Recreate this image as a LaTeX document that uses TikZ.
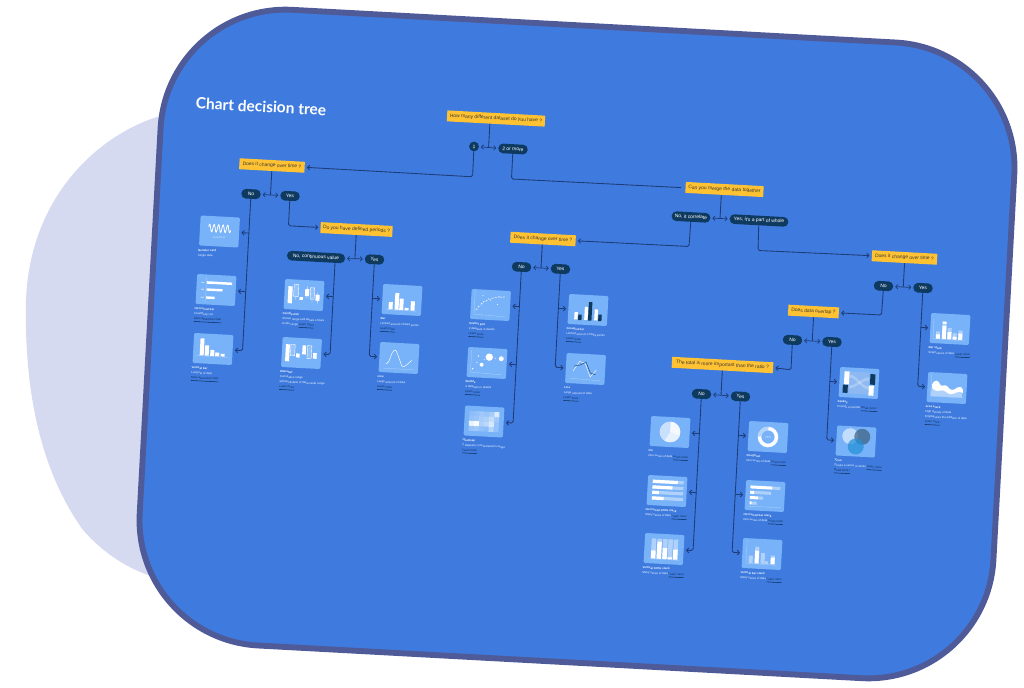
\documentclass[tikz,border=0pt]{standalone}
\usepackage{fontspec}
\setmainfont{Liberation Sans}
\newfontfamily\titlef{Lato}
\usetikzlibrary{arrows.meta,calc}
\definecolor{blob}{HTML}{D6DAF0}
\definecolor{panel}{HTML}{3F7BDE}
\definecolor{rim}{HTML}{4F5A98}
\definecolor{cardc}{HTML}{78B2F8}
\definecolor{pillc}{HTML}{0F3A60}
\definecolor{yel}{HTML}{FFC233}
\definecolor{wire}{HTML}{1E3C78}
\definecolor{ink}{HTML}{3B3A35}
\definecolor{lmc}{HTML}{0F2F5C}
\newcommand\tilt{-3.1}
\tikzset{
  qbox/.style={fill=yel,text=ink,rotate=\tilt,inner sep=0,minimum height=8.2pt,font=\fontsize{3.7}{4}\selectfont},
  pill/.style={fill=pillc,text=white,rotate=\tilt,rounded corners=3.4pt,inner sep=0,minimum height=7.2pt,font=\fontsize{3.7}{4}\selectfont},
  card/.style={fill=cardc,rotate=\tilt,rounded corners=1pt,inner sep=0,minimum width=29.5pt,minimum height=22.5pt},
  cardtxt/.style={rotate=\tilt,anchor=north west,inner sep=0,align=left,text=white!88!cardc,font=\fontsize{2.2}{3.75}\selectfont},
  conn/.style={draw=wire,line width=.65pt,rounded corners=1.2pt},
  arr/.style={conn,-{Straight Barb[length=1.6pt,width=3.2pt,round]},shorten >=1.6pt},
  both/.style={draw=wire,line width=.55pt,{Straight Barb[length=1.6pt,width=3.2pt,round]}-{Straight Barb[length=1.6pt,width=3.2pt,round]},shorten <=1.4pt,shorten >=1.4pt},
  thin white/.style={draw=white,line width=.22pt},
  axis/.style={draw=white!45!cardc,line width=.2pt},
  lite/.style={fill=white,fill opacity=.42},
}
\newcommand\lm[1]{\textcolor{lmc}{\underline{#1}}}
\newcommand\ttl[1]{\textbf{#1}}
% card + caption + drawing
\newcommand\Card[4]{%
  \node[card] (#1) at (#2) {};
  \node[cardtxt] (#1t) at ([shift={(-.8,3)}]#1.south west) {#3};
  \begin{scope}[shift={(#1.center)},rotate=\tilt]#4\end{scope}}
% fork under a question: question, left pill, right pill
\newcommand\Fork[3]{%
  \draw[both] (#2.east) -- (#3.west);
  \coordinate (#1j) at ($(#2.east)!.5!(#3.west)$);
  \coordinate (#1k) at ($(#1.south west)!(#1j)!(#1.south east)$);
  \draw[conn] (#1k) -- (#1j);}
\newcommand\StemDir[1]{\coordinate (#1dn) at ([shift={(-8.1,150)}]#1);}
\newcommand\Leaf[3]{\coordinate (#2b) at ($(#1)!(#2.#3)!(#1dn)$); \draw[arr] (#2b) -- (#2.#3);}
\newcommand\Last[3]{\coordinate (#2b) at ($(#1)!(#2.#3)!(#1dn)$); \draw[arr] (#1) -- (#2b) -- (#2.#3);}
\newcommand\Vbars[3][fill=white]{\foreach \a/\b/\t in {#2}{\fill[#1] (\a,#3) rectangle (\b,\t);}}
\begin{document}
\begin{tikzpicture}[x=.75pt,y=-.75pt]
\useasboundingbox (0,0) rectangle (1024,688);
% lavender blob
\fill[blob] (210,108) -- (157,117) .. controls (100,135) and (30,195) .. (26,300)
  .. controls (24,390) and (40,470) .. (83,530)
  .. controls (105,555) and (130,570) .. (157,578) -- (210,592) -- cycle;
% panel
\begin{scope}[shift={(577,344)},rotate=\tilt]
\draw[fill=panel,draw=rim,line width=4.4pt,rounded corners=94pt] (-427.5,-318.3) rectangle (427.5,318.3);
\end{scope}
\node[rotate=\tilt+.2,text=white,font=\titlef\bfseries\fontsize{11.6}{12}\selectfont,inner sep=0] (title) at (261,106.5) {Chart decision tree};

% questions
\node[qbox,minimum width=73.5pt] (q1) at (496,118.5) {How many different dataset do you have ?};
\node[qbox,minimum width=49pt] (q2) at (272,165.5) {Does it change over time ?};
\node[qbox,minimum width=54pt] (q3) at (356.5,229.5) {Do you have defined periods ?};
\node[qbox,minimum width=58.5pt] (q4) at (724.5,189.5) {Can you merge the data together};
\node[qbox,minimum width=49pt] (q5) at (543,239) {Does it change over time ?};
\node[qbox,minimum width=49pt] (q6) at (904.5,257.5) {Does it change over time ?};
\node[qbox,minimum width=38pt] (q7) at (813.5,311.5) {Does data overlap ?};
\node[qbox,minimum width=76pt] (q8) at (722.5,365) {The total is more important than the ratio ?};
% answers
\node[pill,minimum width=7.2pt] (a1) at (474,146.5) {1};
\node[pill,minimum width=22pt] (a2) at (513,149) {2 or more};
\node[pill,minimum width=14.5pt] (q2n) at (251,194) {No};
\node[pill,minimum width=14.5pt] (q2y) at (290,196) {Yes};
\node[pill,minimum width=43.5pt] (q3n) at (316,257) {No, continuous value};
\node[pill,minimum width=14.5pt] (q3y) at (374.5,259.5) {Yes};
\node[pill,minimum width=29pt] (q4n) at (691,217) {No, it correlate};
\node[pill,minimum width=44pt] (q4y) at (759,220.5) {Yes, it's a part of whole};
\node[pill,minimum width=14.5pt] (q5n) at (521.5,267) {No};
\node[pill,minimum width=14.5pt] (q5y) at (560.5,269) {Yes};
\node[pill,minimum width=14.5pt] (q6n) at (883.5,286) {No};
\node[pill,minimum width=14.5pt] (q6y) at (923,288) {Yes};
\node[pill,minimum width=14.5pt] (q7n) at (792.5,340) {No};
\node[pill,minimum width=14.5pt] (q7y) at (832,342) {Yes};
\node[pill,minimum width=14.5pt] (q8n) at (701.5,394) {No};
\node[pill,minimum width=14.5pt] (q8y) at (740.5,396.5) {Yes};

% cards
\Card{number}{219.5,231.5}{\ttl{Number card}\\Single data}{
  \draw[white,line width=.6pt,smooth,samples=90,domain=-11:11] plot (\x,{-3+3.8*sin(\x*80)});
  \node[inner sep=0,text=white!70!cardc,font=\fontsize{1.8}{2}\selectfont] (numval) at (0,6) {0000000,00};
}
\Card{hbar}{216,290}{\ttl{Horizontal bar}\\Few/Many cat.\\\lm{More about bar chart}}{
  \draw[axis] (-10,-12) -- (-10,12);
  \fill[white] (-9.5,-8.3) rectangle (15.7,-5.8) (-9.5,-1.2) rectangle (6.5,1.2) (-9.5,6.8) rectangle (-1,9.2);
  \fill[white,opacity=.5] (-15,-7.5) rectangle (-12,-6.5) (-15,-.5) rectangle (-12,.5) (-15,7.5) rectangle (-12,8.5);
}
\Card{vbar}{213,349}{\ttl{Vertical bar}\\Long list of data\\\lm{More about bar chart}}{
  \draw[axis] (-16,7.5) -- (16,7.5);
  \Vbars{-13/-9/-10,-8/-4/-3.3,-2.5/1.5/1,2.5/6.5/3.3,8/12/4.3}{7}
}
\Card{candle}{304,295}{\ttl{Candlestick}\\Shows range and details of data\\inside range \lm{Learn more}}{
  \fill[white] (-16,-8) rectangle (-11.7,9) (-4.3,2.3) rectangle (-1,5) (1,-6) rectangle (5,1) (11.7,-1) rectangle (15.7,5);
  \draw[white,line width=.3pt,fill=white,fill opacity=.2] (-10.3,-10) rectangle (-5.7,2) (6.3,-7.7) rectangle (10.3,3.7);
  \draw[thin white] (-8,2) -- (-8,5) (3,-9) -- (3,3) (8.3,3.7) -- (8.3,7) (13.7,-3) -- (13.7,8);
}
\Card{water}{301.5,353}{\ttl{Waterfall}\\Cumulative range\\without details of data inside range\\\lm{Learn more}}{
  \fill[white] (-16,-8) rectangle (-12,9) (-5.3,.7) rectangle (-1.7,4.7) (.7,-7.7) rectangle (4.3,1.3) (11.7,-.7) rectangle (15.3,5);
  \draw[white,line width=.3pt,fill=white,fill opacity=.2] (-11,-8) rectangle (-6.7,3) (5.7,-7.7) rectangle (10,5);
}
\Card{bar}{402,300}{\ttl{Bar}\\Limited amount of data points\\\lm{Learn more}}{
  \draw[axis] (-15,10.5) -- (15,10.5);
  \Vbars{-13/-9/2.7,-7/-3/-6.7,-2.3/1.7/-1.3,3/7/7.7,9/13/.7}{10}
}
\Card{line}{399,358}{\ttl{Line}\\Large amount of data\\\lm{Learn more}}{
  \draw[axis] (-15,11) -- (15,11);
  \draw[white,line width=.35pt,smooth] plot coordinates {(-13,6.7) (-10,4) (-7,-5) (-4,-7.7) (-.7,-1.7) (3.7,8.3) (7.7,6.7) (12.7,1.7)};
}
\Card{scatter}{490.5,305}{\ttl{Scatter plot}\\2 datasets in details\\\lm{Learn more}}{
  \draw[axis] (-16,-13) -- (-16,10) -- (15,11);
  \draw[white,line width=.15pt,opacity=.6] (-13,5) .. controls (-8,-4) and (0,-8) .. (14,-9);
  \foreach \p in {(-14,5),(-12,2),(-9,-1),(-7,-3),(-4,-4),(-2,-6),(0,-5),(2,-7),(5,-8),(8,-9),(10,-8),(13,-8),(-8,-9),(7,-1)}
    \fill[white] \p circle (.55);
}
\Card{bubble}{487,363}{\ttl{Bubble}\\3 datasets in details\\\lm{Learn more}}{
  \draw[axis] (-16,-12) -- (-16,10) -- (15,11);
  \fill[white] (2,-6) circle (3.7) (14,-5) circle (2.5) (-5.3,2) circle (2) (-9,-6.5) circle (.8) (-10,0) circle (.7) (-14,6.5) circle (.8) (-3,-3.5) circle (.5) (8,-5) circle (.5);
}
\Card{heat}{484,421.5}{\ttl{Heatmap}\\2 datasets concentrated in range\\\lm{Learn more}}{
  \foreach \row [count=\j from 0] in {{.15,.2,.3,.25,.35,.75},{.2,.25,.35,.4,.55,.3},{.85,.95,.4,.5,.7,.2},{.25,.3,.2,.15,.45,.2}}
    \foreach \v [count=\i from 0] in \row
      \fill[white,opacity=\v] ({-15+\i*5},{-10+\j*5}) rectangle ++(5,5);
}
\Card{group}{588,310}{\ttl{Grouped bar}\\Limited amount of data points\\\lm{Learn more}}{
  \Vbars{-13.3/-10/2.7,-3.3/.1/-3,6.7/10/-1}{10}
  \Vbars[fill=pillc]{-9.4/-6/5,.5/4/-8,10.7/14/4}{10.5}
}
\Card{linetwo}{585.5,369}{\ttl{Line}\\Large amount of data\\\lm{Learn more}}{
  \draw[axis] (-15,10) -- (15,11);
  \draw[white,line width=.3pt] (-12.3,2.7) -- (-6.3,-7.3) -- (-.7,-5.7) -- (5,7.7) -- (11,.3);
  \draw[pillc,line width=.3pt] (-11.7,-2.3) -- (-5.7,-3.7) -- (.3,-6.7) -- (5,3.7) -- (10.3,5.3);
}
\Card{pie}{670,432}{\ttl{Pie}\\One series of data \lm{Learn more}}{
  \fill[white!70!cardc] (0,0) circle (10.3);
  \fill[white!82!cardc] (0,0) -- (10,3) arc[start angle=17,end angle=120,radius=10.3] -- cycle;
  \fill[white!92!cardc] (0,0) -- (0,-10.3) arc[start angle=-90,end angle=17,radius=10.3] -- cycle;
  \fill[white!60!cardc] (0,0) -- (-5.1,8.9) arc[start angle=120,end angle=270,radius=10.3] -- cycle;
}
\Card{hfull}{667,491}{\ttl{Horizontal 100\% stack}\\Many series of data \lm{Learn more}}{
  \foreach \y/\w in {-9/25,-3.3/20,2/6.7,7.7/11.7}{
    \fill[lite] (-14.7,\y-1.6) rectangle (16.3,\y+1.6);
    \fill[white] (-14.7,\y-1.6) rectangle (-14.7+\w,\y+1.6);}
}
\Card{vfull}{664,549}{\ttl{Vertical 100\% stack}\\Many series of data \lm{Learn more}}{
  \draw[axis] (-15,10.5) -- (16,10.5);
  \foreach \x/\h in {-12.7/8,-7/17,-1.3/11,4/2,9.3/10}{
    \fill[lite] (\x,-10) rectangle (\x+4.5,10);
    \fill[white] (\x,10) rectangle (\x+4.5,10-\h);}
}
\Card{donut}{768,437}{\ttl{Doughnut}\\One series of data \lm{Learn more}}{
  \fill[white,opacity=.45,even odd rule] (0,0) circle (10.5) (0,0) circle (6.5);
  \draw[white,line width=2.4pt] (-90:8.5) arc[start angle=-90,end angle=180,radius=8.5];
  \node[inner sep=0,text=white!80!cardc,font=\fontsize{2.2}{2.4}\selectfont] (donutv) at (0,0) {75\%};
}
\Card{hstack}{765,496}{\ttl{Horizontal bar stack}\\One series of data \lm{Learn more}}{
  \draw[axis] (-16,11) -- (16,11);
  \foreach \y/\a/\b in {-8.3/22/8,-3/4/17,2.3/8/5,7.7/2/5}{
    \fill[white] (-15,\y-1.5) rectangle (-15+\a,\y+1.5);
    \fill[lite] (-15+\a,\y-1.5) rectangle (-15+\a+\b,\y+1.5);}
}
\Card{vstack}{762,554}{\ttl{Vertical bar stack}\\Many series of data \lm{Learn more}}{
  \draw[axis] (-15.5,-13) -- (-15.5,10) -- (15,10.5);
  \fill[lite] (-13,2.3) rectangle (-9,9.7) (-7,-7) rectangle (-3,9.7) (-1,-1) rectangle (3,9.7) (3.5,7) rectangle (6.5,9.7) (9,1) rectangle (13,9.7);
  \fill[white] (-7,-3) rectangle (-3,9.7) (9,3) rectangle (13,9.7);
}
\Card{sankey}{859,383}{\ttl{Sankey}\\Provide a transfer \lm{Read more !}}{
  \fill[white!50!panel,opacity=.55] (-10,-11) rectangle (10,11);
  \fill[white,opacity=.25] (-10,-8) .. controls (-2,-8) and (2,3) .. (10,3) -- (10,6) .. controls (2,6) and (-2,-5) .. (-10,-5) -- cycle;
  \fill[white,opacity=.25] (-10,3) .. controls (-2,3) and (2,-6) .. (10,-6) -- (10,-3) .. controls (2,-3) and (-2,6) .. (-10,6) -- cycle;
  \fill[white] (-15,-11) rectangle (-10,2) (10,2) rectangle (15,12);
  \fill[pillc] (-16,2.5) rectangle (-11,10.5) (11,-9.5) rectangle (16,1);
}
\Card{venn}{856,441.5}{\ttl{Venn}\\Create a sense of whole \lm{Learn more}\\\lm{Read more !}}{
  \fill[white,opacity=.55] (-6,-5) circle (8);
  \fill[pillc!80!white,opacity=.72] (6,-5) circle (8);
  \fill[cyan!70!blue!90!white,opacity=.72] (0,5) circle (8);
}
\Card{barstack}{950,329}{\ttl{Bar stack}\\Small series of data \lm{Learn more}}{
  \draw[axis] (-16.5,-9) -- (-16.5,10.5) -- (15,11);
  \foreach \x/\t/\m in {-13.7/3/6,-7.7/-7/-3,-2.3/-1/3,3/4/7.5,8.7/1/4}{
    \fill[lite] (\x,\t) rectangle (\x+4,10.3);
    \fill[white] (\x,\m) rectangle (\x+4,10.3);}
  \fill[white] (-7.7,-7) rectangle (-3.7,-5);
}
\Card{area}{947,388}{\ttl{Area stack}\\High density of data\\Emphasizes the addition of data\\\lm{Learn more}}{
  \draw[axis] (-16,-13) -- (-16,9) -- (16,9);
  \fill[white,opacity=.42] (-15.5,8.7) -- (-15.5,0) -- (15.5,2) -- (15.5,8.7) -- cycle;
  \fill[white] (-15,-3) .. controls (-13,-8) and (-9,-8) .. (-7,-3)
    .. controls (-5,0) and (-2,-5) .. (1,-1)
    .. controls (4,4) and (8,1) .. (10,-1)
    .. controls (12,-3) and (15,-2) .. (16,1)
    -- (16,4) .. controls (12,1) and (8,6) .. (4,6)
    .. controls (0,6) and (-2,1) .. (-7,3)
    .. controls (-10,4) and (-14,3) .. (-15,0) -- cycle;
}

% connectors
\Fork{q1}{a1}{a2}
\Fork{q2}{q2n}{q2y}
\Fork{q3}{q3n}{q3y}
\Fork{q4}{q4n}{q4y}
\Fork{q5}{q5n}{q5y}
\Fork{q6}{q6n}{q6y}
\Fork{q7}{q7n}{q7y}
\Fork{q8}{q8n}{q8y}

\coordinate (e1) at (472.6,176.8);
\draw[arr] (a1.south) -- (e1) -- (q2.east);
\coordinate (e2) at (511.5,179);
\coordinate (e2t) at (681,187.6);
\draw[conn] (a2.south) -- (e2) -- (e2t);
\coordinate (e3) at (689,246.5);
\draw[arr] (q4n.south) -- (e3) -- (q5.east);
\coordinate (e4) at (758,250.5);
\draw[arr] (q4y.south) -- (e4) -- (q6.west);
\coordinate (e5) at (288.5,225.8);
\draw[arr] (q2y.south) -- (e5) -- (q3.west);
\coordinate (e6) at (881.5,315);
\draw[arr] (q6n.south) -- (e6) -- (q7.east);
\coordinate (e7) at (791,369.8);
\draw[arr] (q7n.south) -- (e7) -- (q8.east);

% stems with leaves
\coordinate (s1) at (q2n.south); \StemDir{s1}
\Leaf{s1}{number}{east}\Leaf{s1}{hbar}{east}\Last{s1}{vbar}{east}
\coordinate (s2) at ($(q3n.south)!.66!(q3n.south east)$); \StemDir{s2}
\Leaf{s2}{candle}{east}\Last{s2}{water}{east}
\coordinate (s3) at (q3y.south); \StemDir{s3}
\Leaf{s3}{bar}{west}\Last{s3}{line}{west}
\coordinate (s4) at (q5n.south); \StemDir{s4}
\Leaf{s4}{scatter}{east}\Leaf{s4}{bubble}{east}\Last{s4}{heat}{east}
\coordinate (s5) at (q5y.south); \StemDir{s5}
\Leaf{s5}{group}{west}\Last{s5}{linetwo}{west}
\coordinate (s6) at (q8n.south); \StemDir{s6}
\Leaf{s6}{pie}{east}\Leaf{s6}{hfull}{east}\Last{s6}{vfull}{east}
\coordinate (s7) at (q8y.south); \StemDir{s7}
\Leaf{s7}{donut}{west}\Leaf{s7}{hstack}{west}\Last{s7}{vstack}{west}
\coordinate (s8) at (q7y.south); \StemDir{s8}
\Leaf{s8}{sankey}{west}\Last{s8}{venn}{west}
\coordinate (s9) at (q6y.south); \StemDir{s9}
\Leaf{s9}{barstack}{west}\Last{s9}{area}{west}
\end{tikzpicture}
\end{document}
